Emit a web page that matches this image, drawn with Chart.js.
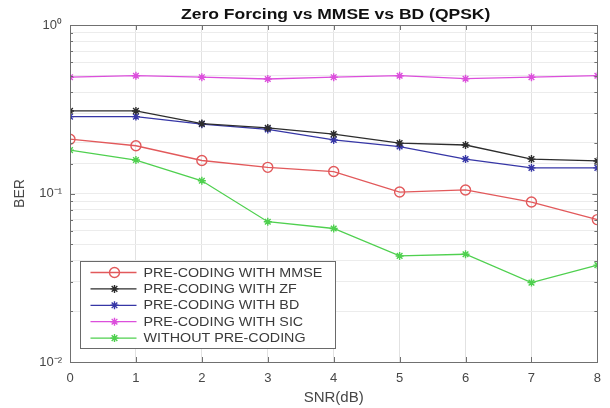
<!DOCTYPE html>
<html>
<head>
<meta charset="utf-8">
<script src="https://cdn.jsdelivr.net/npm/chart.js@4.4.1/dist/chart.umd.min.js"></script>
<style>
  html, body { margin: 0; padding: 0; background: #fff; }
  #wrap { width: 610px; height: 408px; }
</style>
</head>
<body>
<div id="wrap"><canvas id="ber"></canvas></div>
<script>
// BER vs SNR for the precoding schemes (QPSK)
const snr = [0, 1, 2, 3, 4, 5, 6, 7, 8];
const berMmse = [0.21, 0.192, 0.157, 0.143, 0.135, 0.102, 0.105, 0.089, 0.070];
const berZf = [0.309, 0.309, 0.26, 0.245, 0.225, 0.199, 0.194, 0.16, 0.156];
const berBd = [0.286, 0.286, 0.258, 0.24, 0.208, 0.19, 0.16, 0.142, 0.142];
const berSic = [0.49, 0.50, 0.49, 0.478, 0.49, 0.50, 0.48, 0.49, 0.50];
const berNone = [0.181, 0.158, 0.119, 0.068, 0.062, 0.0426, 0.0436, 0.0296, 0.0376];
const seriesNames = ['PRE-CODING WITH MMSE', 'PRE-CODING WITH ZF', 'PRE-CODING WITH BD', 'PRE-CODING WITH SIC', 'WITHOUT PRE-CODING'];
const yDecades = [0.01, 0.1, 1];
const yDecadeLabels = ['10⁻²', '10⁻¹', '10⁰'];

const FONT = '"Liberation Sans", Arial, Helvetica, sans-serif';
const TEXT = '#474747';

const pts = vals => snr.map((x, i) => ({x, y: vals[i]}));

function series(label, vals, color, style) {
  return {
    label,
    data: pts(vals),
    borderColor: color,
    backgroundColor: 'rgba(0,0,0,0)',
    borderWidth: 1.3,
    pointStyle: style,
    pointRadius: style === 'circle' ? 5 : 4,
    pointBorderColor: color,
    pointBackgroundColor: 'rgba(0,0,0,0)',
    pointBorderWidth: 1.4,
    tension: 0
  };
}

// text stretched horizontally around an anchor
function wideText(ctx, text, x, y, sx, align) {
  ctx.save();
  ctx.translate(x, y);
  ctx.scale(sx, 1);
  ctx.textAlign = align;
  ctx.textBaseline = 'middle';
  ctx.fillText(text, 0, 0);
  ctx.restore();
}

const frame = {
  id: 'frame',
  afterDatasetsDraw(chart) {
    const {ctx, chartArea: a, scales} = chart;
    ctx.save();
    // inward tick marks on all four sides
    ctx.strokeStyle = '#707070';
    ctx.lineWidth = 1;
    ctx.beginPath();
    scales.x.ticks.forEach(t => {
      const px = Math.round(scales.x.getPixelForValue(t.value)) + 0.5;
      ctx.moveTo(px, a.bottom); ctx.lineTo(px, a.bottom - 5);
      ctx.moveTo(px, a.top); ctx.lineTo(px, a.top + 5);
    });
    scales.y.ticks.forEach(t => {
      const py = Math.round(scales.y.getPixelForValue(t.value)) + 0.5;
      const len = t.major ? 5 : 3;
      ctx.moveTo(a.left, py); ctx.lineTo(a.left + len, py);
      ctx.moveTo(a.right, py); ctx.lineTo(a.right - len, py);
    });
    ctx.stroke();
    ctx.strokeRect(Math.round(a.left) + 0.5, Math.round(a.top) + 0.5,
      Math.round(a.right - a.left), Math.round(a.bottom - a.top));

    // title
    ctx.fillStyle = '#111';
    ctx.font = 'bold 14px ' + FONT;
    wideText(ctx, 'Zero Forcing vs MMSE vs BD (QPSK)', (a.left + a.right) / 2 + 2, 15, 1.25, 'center');

    // legend box, lower left of the plot
    const bx = a.left + 10.5, by = a.top + 236.5, bw = 255, bh = 87;
    ctx.fillStyle = '#fff';
    ctx.fillRect(bx, by, bw, bh);
    ctx.strokeStyle = '#6a6a6a';
    ctx.strokeRect(bx, by, bw, bh);
    ctx.font = '13px ' + FONT;
    chart.data.datasets.forEach((ds, i) => {
      const y = by + 11 + i * 16.4;
      ctx.strokeStyle = ds.borderColor;
      ctx.lineWidth = ds.borderWidth;
      ctx.beginPath();
      ctx.moveTo(bx + 10, y); ctx.lineTo(bx + 56, y);
      ctx.stroke();
      ctx.lineWidth = ds.pointBorderWidth;
      ctx.fillStyle = 'rgba(0,0,0,0)';
      Chart.helpers.drawPoint(ctx, {pointStyle: ds.pointStyle, radius: ds.pointRadius, rotation: 0, borderWidth: ds.pointBorderWidth}, bx + 34, y);
      ctx.fillStyle = '#3a3a3a';
      wideText(ctx, ds.label, bx + 63, y + 0.5, 1.1, 'left');
    });
    ctx.restore();
  }
};

new Chart(document.getElementById('ber'), {
  type: 'line',
  data: {
    datasets: [
      series(seriesNames[0], berMmse, '#e2595b', 'circle'),
      series(seriesNames[1], berZf, '#2d2d2d', 'star'),
      series(seriesNames[2], berBd, '#3636a6', 'star'),
      series(seriesNames[3], berSic, '#dc4fdc', 'star'),
      series(seriesNames[4], berNone, '#4fd04f', 'star')
    ]
  },
  options: {
    responsive: true,
    maintainAspectRatio: false,
    animation: false,
    layout: { padding: {top: 25, right: 7, left: 0, bottom: 0} },
    plugins: { legend: {display: false}, title: {display: false}, tooltip: {enabled: false} },
    scales: {
      x: {
        type: 'linear',
        min: 0, max: 8,
        afterFit: s => { s.height = 46; },
        grid: { color: '#e2e2e2', drawTicks: false },
        border: { display: false },
        ticks: { stepSize: 1, padding: 9, color: TEXT, font: {family: FONT, size: 13} },
        title: { display: true, text: 'SNR(dB)', color: TEXT, font: {family: FONT, size: 15}, padding: {top: 0, bottom: 1} }
      },
      y: {
        type: 'logarithmic',
        min: 0.01, max: 1,
        afterFit: s => { s.width = 70; },
        grid: { color: '#ececec', drawTicks: false },
        border: { display: false },
        ticks: {
          autoSkip: false,
          padding: 8,
          color: TEXT,
          font: {family: FONT, size: 13},
          callback: v => {
            const k = yDecades.findIndex(d => Math.abs(Math.log10(d) - Math.log10(v)) < 1e-6);
            return k < 0 ? '' : yDecadeLabels[k];
          }
        },
        title: { display: true, text: 'BER', color: TEXT, font: {family: FONT, size: 14}, padding: {top: 12, bottom: 0} }
      }
    }
  },
  plugins: [frame]
});
</script>
</body>
</html>
